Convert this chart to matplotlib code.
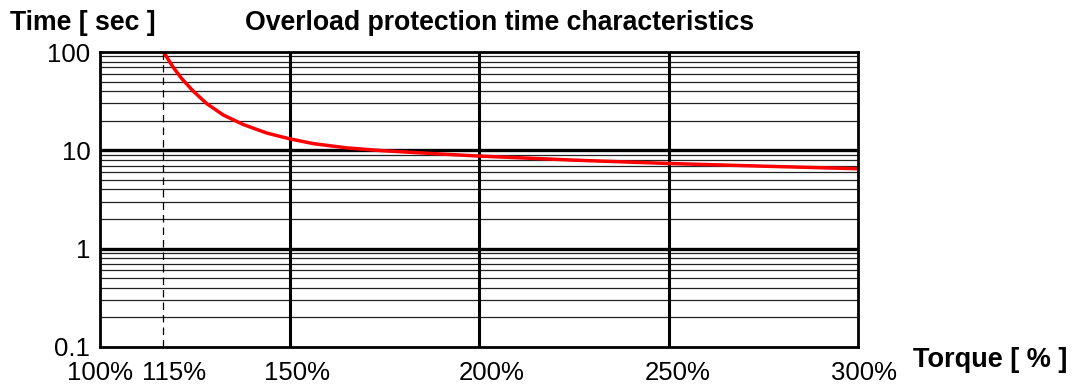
import matplotlib
matplotlib.use("Agg")
import matplotlib.pyplot as plt
from matplotlib.ticker import FixedLocator, NullFormatter
from matplotlib.transforms import ScaledTranslation

plt.rcParams["font.family"] = ["Liberation Sans", "DejaVu Sans"]

# values
torque = [116.8, 118, 119.3, 121.5, 124.6, 128.1, 132.5, 137.8, 144, 150, 156.3, 165, 174, 183,
          191.5, 200, 225, 250, 275, 300]
time_sec = [100, 84, 70, 54, 40, 30, 22.9, 18.3, 15.0, 13.1, 11.7, 10.6, 9.95, 9.5,
            9.1, 8.75, 7.95, 7.35, 6.9, 6.5]

# the 115% mark sits a bit right of a true 115 in the drawing
x_ticks = [100, 116.6, 150, 200, 250, 300]
x_labels = ["100%", "115%", "150%", "200%", "250%", "300%"]
y_ticks = [0.1, 1, 10, 100]
y_labels = ["0.1", "1", "10", "100"]
minor_y = [m * d for d in (0.1, 1, 10) for m in range(2, 10)]

fig = plt.figure(figsize=(10.8, 3.85), dpi=100)
ax = fig.add_axes([100 / 1080, 1 - 347 / 385, 758 / 1080, 295 / 385])

ax.set_yscale("log")
ax.set_xlim(100, 300)
ax.set_ylim(0.1, 100)

# grid
for v in minor_y:
    ax.axhline(v, color="#222222", lw=0.9, zorder=1)
for v in (1, 10):
    ax.axhline(v, color="black", lw=2.4, zorder=2)
for v in (150, 200, 250):
    ax.axvline(v, color="black", lw=2.2, zorder=2)
ax.axvline(x_ticks[1], color="black", lw=0.9, ls=(0, (6, 4)), zorder=2)

ax.plot(torque, time_sec, color="#ff0000", lw=2.5, zorder=3,
        solid_capstyle="butt", solid_joinstyle="round")

for s in ax.spines.values():
    s.set_linewidth(2.0)
    s.set_zorder(4)

ax.xaxis.set_major_locator(FixedLocator(x_ticks))
ax.set_xticklabels(x_labels)
ax.yaxis.set_major_locator(FixedLocator(y_ticks))
ax.set_yticklabels(y_labels)
ax.yaxis.set_minor_locator(FixedLocator(minor_y))
ax.yaxis.set_minor_formatter(NullFormatter())
ax.tick_params(axis="both", which="both", length=0, labelsize=18.5)
ax.tick_params(axis="x", pad=10)
ax.tick_params(axis="y", pad=7)

# labels in the drawing sit slightly right of their gridlines
shifts = [0, 11, 7.5, 12.5, 9.5, 6.5]
for lab, dx in zip(ax.get_xticklabels(), shifts):
    lab.set_transform(lab.get_transform() + ScaledTranslation(dx / 100, 0, fig.dpi_scale_trans))

fig.text(10 / 1080, 1 - 23 / 385, "Time [ sec ]", fontsize=19.2, fontweight="bold",
         ha="left", va="center")
fig.text(245 / 1080, 1 - 23 / 385, "Overload protection time characteristics", fontsize=19.2,
         fontweight="bold", ha="left", va="center")
fig.text(913 / 1080, 1 - 360 / 385, "Torque [ % ]", fontsize=19.5, fontweight="bold",
         ha="left", va="center")

fig.savefig("out.png", dpi=100)
